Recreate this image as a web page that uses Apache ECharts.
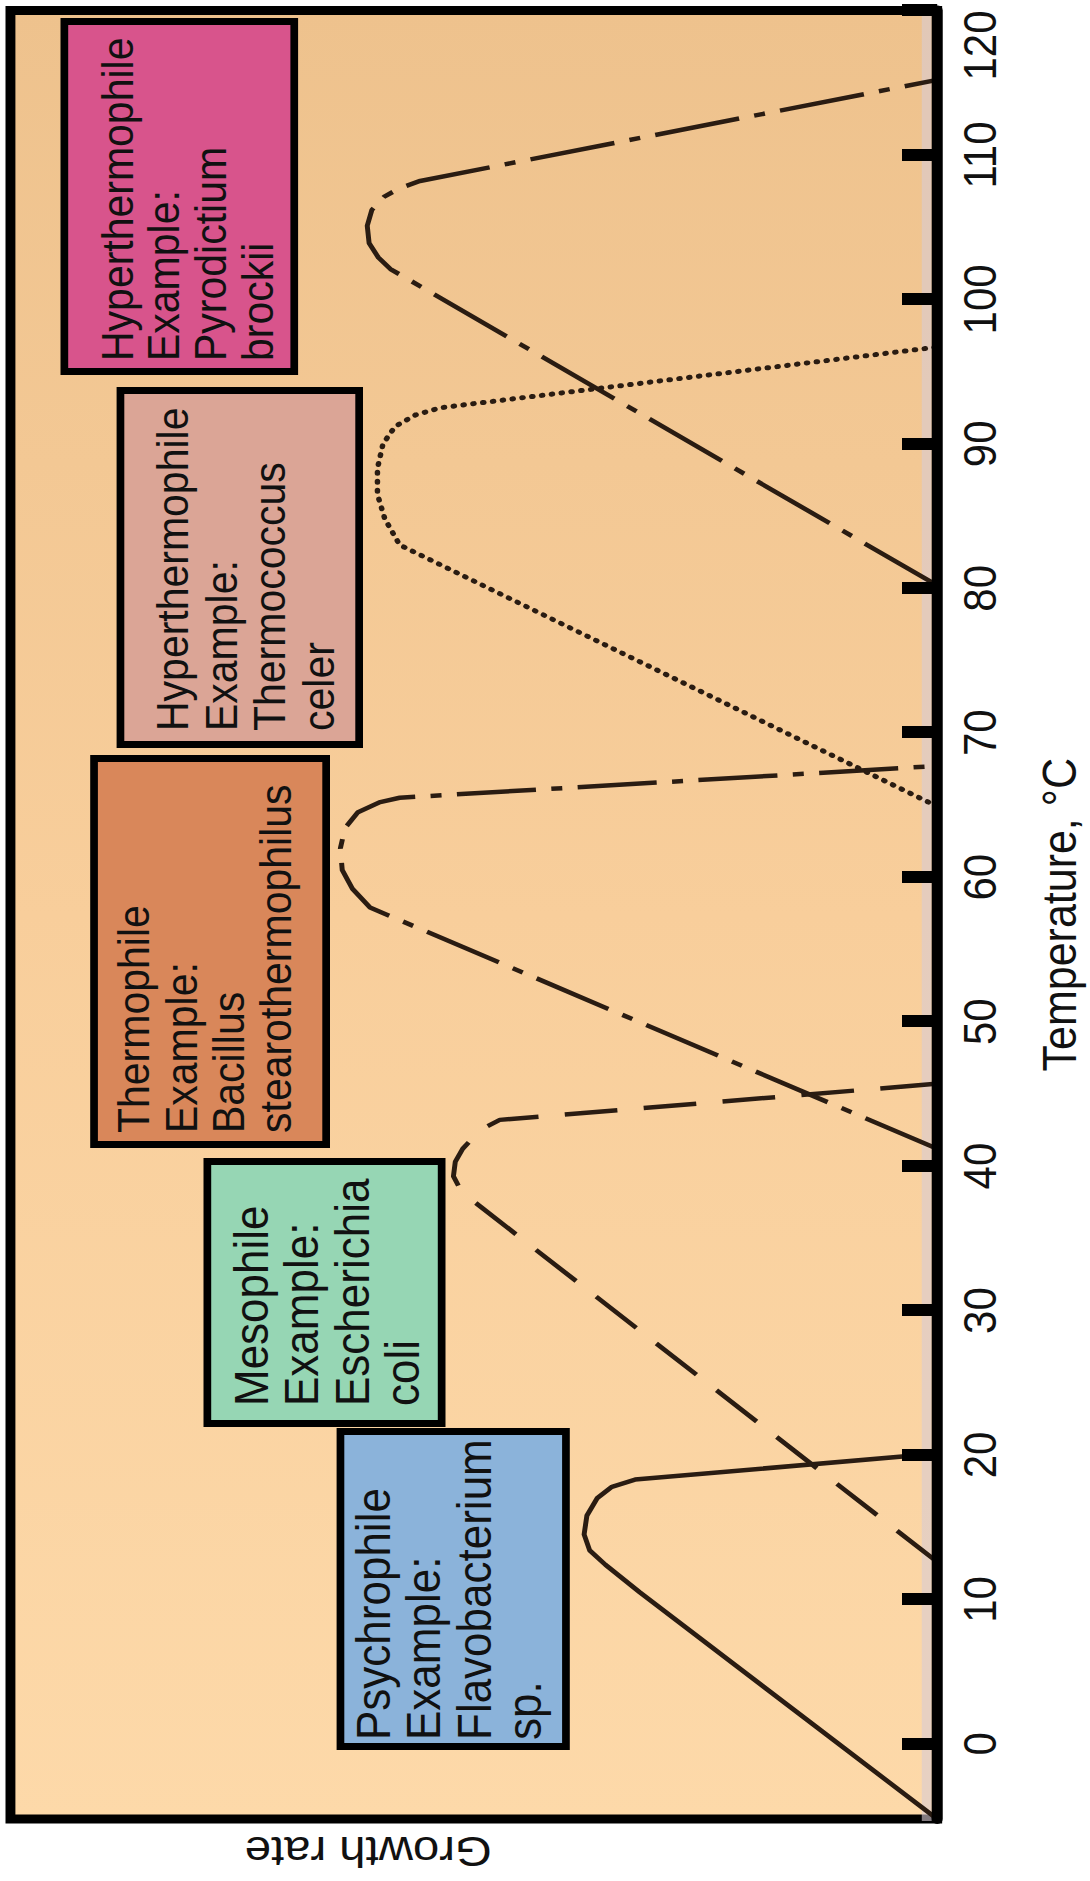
<!DOCTYPE html>
<html>
<head>
<meta charset="utf-8">
<script src="https://cdn.jsdelivr.net/npm/echarts@6/dist/echarts.min.js"></script>
<style>
  html, body { margin: 0; padding: 0; background: #fff; }
  #wrap { position: relative; width: 1090px; height: 1881px; overflow: hidden; }
  /* chart is drawn upright, then turned on its side like the scanned figure */
  #chart {
    position: absolute; left: 0; top: 0; width: 1881px; height: 991px;
    transform-origin: 0 0;
    transform: translate(0px, 1881px) rotate(-90deg) scaleY(1.1);
  }
</style>
</head>
<body>
<div id="wrap"><div id="chart"></div></div>
<script>
const FONT = "'Liberation Sans', Arial, sans-serif";

const tempTicks = [0, 10, 20, 30, 40, 50, 60, 70, 80, 90, 100, 110, 120];

// growth curves: temperature (°C) vs relative growth rate
const psychroTemp = [-5.2, 10.5, 12.4, 13.4, 14.5, 15.8, 17.0, 17.8, 18.3, 20.1];
const psychroRate = [0, 0.321, 0.358, 0.375, 0.381, 0.378, 0.367, 0.351, 0.326, 0];

const mesoTemp = [12.6, 37.2, 38.2, 39.3, 40.3, 41.2, 42.5, 43.2, 45.7];
const mesoRate = [0, 0.493, 0.513, 0.522, 0.520, 0.512, 0.493, 0.472, 0];

const thermoTemp = [41.2, 57.9, 59.2, 60.5, 62.0, 63.4, 64.5, 65.2, 65.5, 67.7];
const thermoRate = [0, 0.612, 0.631, 0.642, 0.644, 0.639, 0.625, 0.601, 0.580, 0];

const celerTemp = [64.9, 83.0, 84.8, 86.5, 88.3, 90.0, 91.2, 92.0, 92.5, 96.7];
const celerRate = [0, 0.580, 0.596, 0.604, 0.604, 0.598, 0.585, 0.563, 0.536, 0];

const brockiiTemp = [80.2, 102.1, 102.9, 103.9, 105.1, 106.2, 107.1, 107.7, 108.2, 115.2];
const brockiiRate = [0, 0.590, 0.603, 0.613, 0.615, 0.610, 0.597, 0.580, 0.558, 0];

const boxLabels = [
  "Psychrophile\nExample:\nFlavobacterium\nsp.",
  "Mesophile\nExample:\nEscherichia\ncoli",
  "Thermophile\nExample:\nBacillus\nstearothermophilus",
  "Hyperthermophile\nExample:\nThermococcus\nceler",
  "Hyperthermophile\nExample:\nPyrodictium\nbrockii"
];

const zip = (t, r) => t.map((v, i) => [v, r[i]]);
const LINE = '#2a1c12';

// box placement in chart pixels (upright frame)
const boxLayout = [
  { x: 131, y: 306, w: 322, h: 212, tx: 141, ty: 316, size: 44, lh: 46, fill: '#8bb3da' },
  { x: 454, y: 185, w: 269, h: 220, tx: 475, ty: 205, size: 44, lh: 46, fill: '#96d6b4' },
  { x: 733, y: 82, w: 393, h: 218, tx: 748, ty: 100, size: 41, lh: 43, fill: '#d9875a' },
  { x: 1133, y: 106, w: 361, h: 224, tx: 1150, ty: 134, size: 41, lh: 44.5, fill: '#dba596' },
  { x: 1506, y: 55, w: 357, h: 216, tx: 1520, ty: 85, size: 41, lh: 42.5, fill: '#d8548c' }
];

const lineSeries = (data, type, width, cap) => ({
  type: 'line',
  data: data,
  showSymbol: false,
  symbol: 'none',
  smooth: false,
  z: 3,
  lineStyle: { color: LINE, width: width, type: type, cap: cap || 'butt', join: 'round' }
});

const myChart = echarts.init(document.getElementById('chart'), null, { renderer: 'svg' });

const option = {
  animation: false,
  grid: {
    left: 56, right: 10.5, top: 9.5, bottom: 139,
    show: true,
    borderColor: '#000',
    borderWidth: 9,
    backgroundColor: {
      type: 'linear', x: 0, y: 0, x2: 1, y2: 0,
      colorStops: [
        { offset: 0, color: '#fdd9a9' },
        { offset: 0.5, color: '#f8ce9b' },
        { offset: 1, color: '#eec28d' }
      ]
    }
  },
  xAxis: {
    type: 'value',
    z: 5,
    min: -5.2,
    max: 120,
    name: 'Temperature, °C',
    nameLocation: 'middle',
    nameGap: 90,
    nameTextStyle: { fontSize: 43, fontFamily: FONT, color: '#111' },
    axisLine: { show: true, lineStyle: { color: '#000', width: 10 } },
    axisTick: {
      show: true, inside: true, length: 32,
      customValues: tempTicks,
      lineStyle: { color: '#000', width: 12 }
    },
    axisLabel: {
      show: true, margin: 18,
      customValues: tempTicks,
      alignMaxLabel: 'right',
      fontSize: 42, fontFamily: FONT, color: '#111'
    },
    splitLine: { show: false }
  },
  yAxis: {
    type: 'value',
    min: 0,
    max: 1,
    name: 'Growth rate',
    nameLocation: 'middle',
    nameGap: 11,
    nameTextStyle: { fontSize: 43, fontFamily: FONT, color: '#111', padding: [0, 0, 0, 192] },
    axisLine: { show: false },
    axisTick: { show: false },
    axisLabel: { show: false },
    splitLine: { show: false }
  },
  graphic: [
    {
      type: 'rect', z: 1, silent: true,
      shape: { x: 60, y: 838, width: 1806, height: 9 },
      style: { fill: '#d9cbd3', opacity: 0.6 }
    }
  ].concat(boxLayout.map((b, i) => ({
    type: 'group', z: 10,
    children: [
      {
        type: 'rect',
        shape: { x: b.x + 3.5, y: b.y + 3.5, width: b.w - 7, height: b.h - 7 },
        style: { fill: b.fill, stroke: '#000', lineWidth: 7 }
      },
      {
        type: 'text', x: b.tx, y: b.ty,
        style: {
          text: boxLabels[i], fontSize: b.size, fontFamily: FONT,
          lineHeight: b.lh, fill: '#111', verticalAlign: 'top'
        }
      }
    ]
  }))),
  series: [
    lineSeries(zip(psychroTemp, psychroRate), 'solid', 4.5),
    lineSeries(zip(mesoTemp, mesoRate), [48, 24], 4.5),
    lineSeries(zip(thermoTemp, thermoRate), [72, 14, 10, 14], 4.5),
    lineSeries(zip(celerTemp, celerRate), [1, 8], 5, 'round'),
    lineSeries(zip(brockiiTemp, brockiiRate), [78, 14, 10, 14], 4.5)
  ]
};

myChart.setOption(option);
</script>
</body>
</html>
